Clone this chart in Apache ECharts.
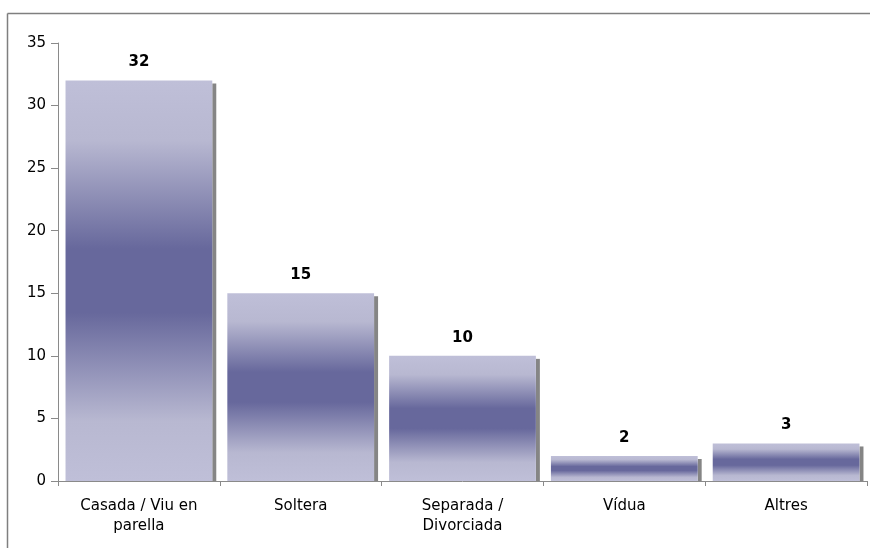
<!DOCTYPE html>
<html>
<head>
<meta charset="utf-8">
<script src="https://cdn.jsdelivr.net/npm/echarts@6/dist/echarts.min.js"></script>
<style>
  html, body { margin: 0; padding: 0; background: #fff; }
  #chart { width: 870px; height: 548px; }
</style>
</head>
<body>
<div id="chart"></div>
<script>
// Estat civil: categories and counts
var categories = ['Casada / Viu en\nparella', 'Soltera', 'Separada /\nDivorciada', 'Vídua', 'Altres'];
var values = [32, 15, 10, 2, 3];
var yTicks = { min: 0, max: 35, interval: 5 };

var FONT = '"DejaVu Sans", Verdana, sans-serif';

var barGradient = new echarts.graphic.LinearGradient(0, 0, 0, 1, [
  { offset: 0, color: '#bfbfd8' },
  { offset: 0.15, color: '#b8b8d1' },
  { offset: 0.42, color: '#67689c' },
  { offset: 0.58, color: '#67689c' },
  { offset: 0.85, color: '#b8b8d1' },
  { offset: 1, color: '#bfbfd8' }
]);

function renderBar(params, api) {
  var idx = api.value(0);
  var val = api.value(1);
  var top = api.coord([idx, val]);
  var base = api.coord([idx, 0]);
  var catW = api.size([1, 0])[0];
  var w = catW * 0.907;
  var x = top[0] - w / 2;
  var h = base[1] - top[1];
  var children = [];
  // offset drop shadow on the right side
  children.push({
    type: 'rect',
    shape: { x: x + w, y: top[1] + 3, width: 4, height: Math.max(h - 3, 0) },
    style: { fill: '#858585' }
  });
  children.push({
    type: 'rect',
    shape: { x: x, y: top[1], width: w, height: h },
    style: { fill: barGradient }
  });
  children.push({
    type: 'text',
    style: {
      x: top[0],
      y: top[1] - 18,
      text: String(val),
      fill: '#000',
      font: 'bold 15px ' + FONT,
      align: 'center',
      verticalAlign: 'middle'
    }
  });
  return { type: 'group', children: children };
}

var chart = echarts.init(document.getElementById('chart'), null, { renderer: 'canvas' });
chart.setOption({
  backgroundColor: '#fff',
  animation: false,
  grid: { left: 58, right: 3, top: 43, bottom: 67, containLabel: false },
  graphic: [
    { type: 'line', shape: { x1: 7.5, y1: 13.5, x2: 870, y2: 13.5 }, style: { stroke: '#7f7f7f', lineWidth: 1.5 } },
    { type: 'line', shape: { x1: 7.5, y1: 13.5, x2: 7.5, y2: 548 }, style: { stroke: '#7f7f7f', lineWidth: 1.5 } }
  ],
  xAxis: {
    type: 'category',
    data: categories,
    axisLine: { lineStyle: { color: '#8a8a8a', width: 1 } },
    axisTick: { show: true, length: 5, lineStyle: { color: '#8a8a8a' } },
    axisLabel: {
      color: '#000',
      fontFamily: FONT,
      fontSize: 15,
      lineHeight: 20,
      margin: 15,
      interval: 0
    },
    splitLine: { show: false }
  },
  yAxis: {
    type: 'value',
    min: yTicks.min,
    max: yTicks.max,
    interval: yTicks.interval,
    axisLine: { show: true, lineStyle: { color: '#8a8a8a', width: 1 } },
    axisTick: { show: true, length: 7, lineStyle: { color: '#8a8a8a' } },
    axisLabel: { color: '#000', fontFamily: FONT, fontSize: 15, margin: 12 },
    splitLine: { show: false }
  },
  series: [{
    type: 'custom',
    renderItem: renderBar,
    encode: { x: 0, y: 1 },
    data: values.map(function (v, i) { return [i, v]; }),
    z: 1
  }]
});
</script>
</body>
</html>
